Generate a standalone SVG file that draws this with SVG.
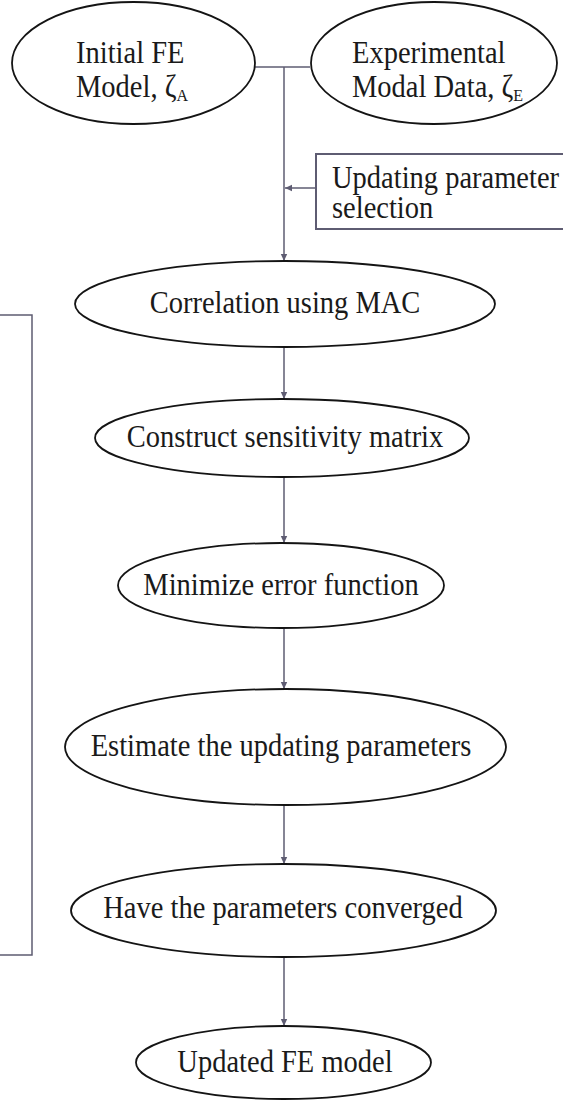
<svg xmlns="http://www.w3.org/2000/svg" width="563" height="1100" viewBox="0 0 563 1100">
  <style>
    .node { fill: #ffffff; stroke: #141414; stroke-width: 1.8; }
    .box { fill: #ffffff; stroke: #5e5c72; stroke-width: 2; }
    .label { font-family: "Liberation Serif", "Times New Roman", serif; font-size: 28.5px; fill: #1a1a1a; }
    .mid { text-anchor: middle; }
    .sub { font-size: 16px; }
    .link { fill: none; stroke: #5e5c72; stroke-width: 1.5; }
  </style>
  <defs>
    <marker id="arrow" markerWidth="8" markerHeight="8" refX="7" refY="4" orient="auto" markerUnits="userSpaceOnUse">
      <path d="M0,0.8 L7,4 L0,7.2 Z" fill="#5e5c72"/>
    </marker>
  </defs>
  <rect width="563" height="1100" fill="#ffffff"/>

  <!-- connectors -->
  <g id="connectors">
    <path class="link" d="M255,67 H310"/>
    <path class="link" d="M284,67 V261" marker-end="url(#arrow)"/>
    <path class="link" d="M316,188 H285" marker-end="url(#arrow)"/>
    <path class="link" d="M284,347 V399" marker-end="url(#arrow)"/>
    <path class="link" d="M284,477 V543" marker-end="url(#arrow)"/>
    <path class="link" d="M284,628 V689" marker-end="url(#arrow)"/>
    <path class="link" d="M284,805 V864" marker-end="url(#arrow)"/>
    <path class="link" d="M284,957 V1026" marker-end="url(#arrow)"/>
    <!-- feedback loop bracket on the left -->
    <path class="link" d="M0,315 H32 V955 H0"/>
  </g>

  <!-- labels are stretched slightly in height about their baselines -->
  <g id="initial-fe-model">
    <ellipse class="node" cx="133.5" cy="63" rx="121.5" ry="61"/>
    <text class="label" x="76" y="63" transform="matrix(1 0 0 1.08 0 -5.04)">Initial FE</text>
    <text class="label" x="76" y="97" transform="matrix(1 0 0 1.08 0 -7.76)">Model, ζ<tspan class="sub" dy="4">A</tspan></text>
  </g>

  <g id="experimental-modal-data">
    <ellipse class="node" cx="434" cy="63" rx="123" ry="61"/>
    <text class="label" x="352" y="63" transform="matrix(1 0 0 1.08 0 -5.04)">Experimental</text>
    <text class="label" x="352" y="97" transform="matrix(1 0 0 1.08 0 -7.76)">Modal Data, ζ<tspan class="sub" dy="4">E</tspan></text>
  </g>

  <g id="parameter-selection">
    <rect class="box" x="316" y="154" width="260" height="75"/>
    <text class="label" x="332" y="188" transform="matrix(1 0 0 1.08 0 -15.04)">Updating parameter</text>
    <text class="label" x="332" y="218" transform="matrix(1 0 0 1.08 0 -17.44)">selection</text>
  </g>

  <g id="correlation">
    <ellipse class="node" cx="285" cy="304" rx="210" ry="43"/>
    <text class="label mid" x="285" y="313" transform="matrix(1 0 0 1.08 0 -25.04)">Correlation using MAC</text>
  </g>

  <g id="sensitivity-matrix">
    <ellipse class="node" cx="282" cy="438" rx="187" ry="39"/>
    <text class="label mid" x="285" y="447" transform="matrix(1 0 0 1.08 0 -35.76)">Construct sensitivity matrix</text>
  </g>

  <g id="minimize-error">
    <ellipse class="node" cx="281" cy="585.5" rx="163" ry="42.5"/>
    <text class="label mid" x="281" y="595" transform="matrix(1 0 0 1.08 0 -47.6)">Minimize error function</text>
  </g>

  <g id="estimate-parameters">
    <ellipse class="node" cx="285.5" cy="747" rx="220.5" ry="58"/>
    <text class="label mid" x="281" y="756" transform="matrix(1 0 0 1.08 0 -60.48)">Estimate the updating parameters</text>
  </g>

  <g id="convergence-check">
    <ellipse class="node" cx="283.5" cy="910.5" rx="212.5" ry="46.5"/>
    <text class="label mid" x="283" y="918" transform="matrix(1 0 0 1.08 0 -73.44)">Have the parameters converged</text>
  </g>

  <g id="updated-fe-model">
    <ellipse class="node" cx="283.5" cy="1062.5" rx="147.5" ry="36.5"/>
    <text class="label mid" x="285" y="1072" transform="matrix(1 0 0 1.08 0 -85.76)">Updated FE model</text>
  </g>
</svg>
